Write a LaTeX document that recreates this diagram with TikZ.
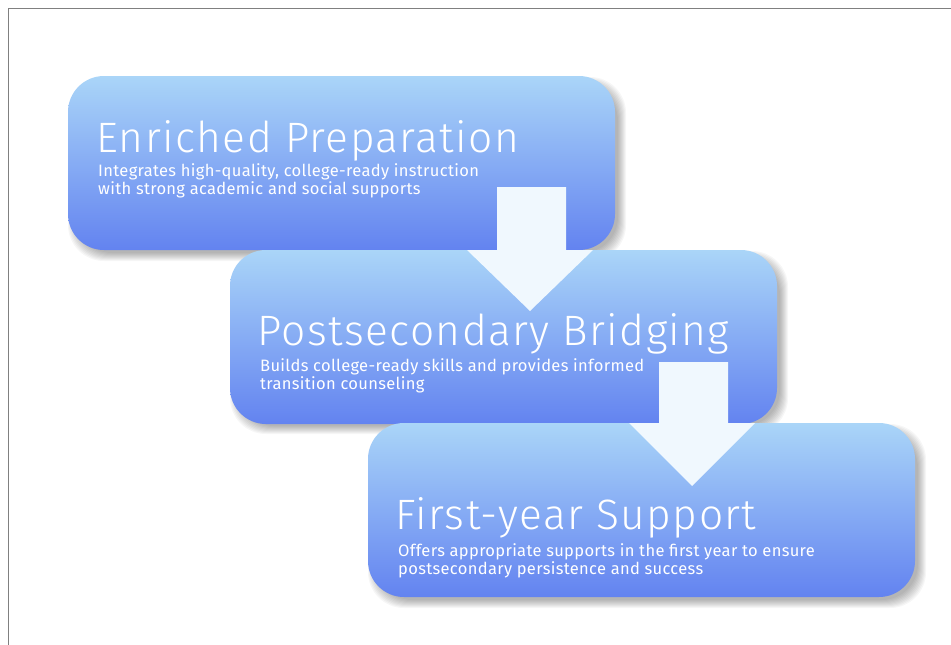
\documentclass[tikz,border=0pt]{standalone}
\usepackage{fontspec}
\setmainfont{Fira Sans}
\newfontfamily\titlefont{Fira Sans Light}[LetterSpace=3.3]
\newfontfamily\bodyfont{Fira Sans}[LetterSpace=2]
\definecolor{stagetop}{RGB}{170,213,248}
\definecolor{stagebottom}{RGB}{99,131,240}
\definecolor{arrowfill}{RGB}{240,248,254}
\definecolor{framegray}{RGB}{128,128,128}
\tikzset{
  stagebox/.style={rectangle, rounded corners=36pt, inner sep=0pt, outer sep=0pt,
    minimum width=547pt, minimum height=174pt, anchor=north west,
    top color=stagetop, bottom color=stagebottom, draw=none},
  stagetitle/.style={anchor=base west, inner sep=0pt, text=white,
    font=\titlefont\fontsize{42.5}{43}\selectfont},
  % base anchor of a two-line block sits on its last line
  stagetext/.style={anchor=base west, inner sep=0pt, text=white, align=left,
    font=\bodyfont\fontsize{16.5}{17.7}\selectfont},
  flowarrow/.style={fill=arrowfill, draw=none}
}
% soft drop shadow behind a stage box: corners (#1,#2) and (#3,#4)
\newcommand{\stageshadow}[4]{%
  \foreach \s in {-3,...,5}{%
    \fill[black, opacity=0.035, rounded corners=36pt]
      (#1+5-\s, #2+6-\s) rectangle (#3+6+\s, #4+6+\s);
  }%
}
\begin{document}
\begin{tikzpicture}[x=1pt, y=-1pt]
\useasboundingbox (0,0) rectangle (951,645);
\fill[white] (0,0) rectangle (951,645);
% page frame
\draw[framegray, line width=1.8pt] (8.5,645) -- (8.5,8.5) -- (951,8.5);

% stage 1
\stageshadow{68}{76}{615}{250}
\node[stagebox] (prep) at (68,76) {};
\node[stagetitle] (preptitle) at (96,152) {Enriched Preparation};
\node[stagetext] (preptext) at (98,194.5) {Integrates high-quality, college-ready instruction\\with strong academic and social supports};

% stage 2
\stageshadow{230}{250}{777}{423}
\node[stagebox] (bridge) at (230,250) {};
\node[stagetitle] (bridgetitle) at (257,345) {Postsecondary Bridging};
\node[stagetext] (bridgetext) at (260,389) {Builds college-ready skills and provides informed\\transition counseling};

% stage 3
\stageshadow{368}{423}{915}{597}
\node[stagebox] (support) at (368,423) {};
\node[stagetitle] (supporttitle) at (395,529) {First-year Support};
\node[stagetext] (supporttext) at (398,574) {Offers appropriate supports in the first year to ensure\\postsecondary persistence and success};

% block arrows between stages
\fill[flowarrow] (497,187) -- (566,187) -- (566,250) -- (593,250) -- (530,311)
  -- (467,250) -- (497,250) -- cycle;
\fill[flowarrow] (659,362) -- (728,362) -- (728,423) -- (755,423) -- (692,486)
  -- (629,423) -- (659,423) -- cycle;
\end{tikzpicture}
\end{document}
